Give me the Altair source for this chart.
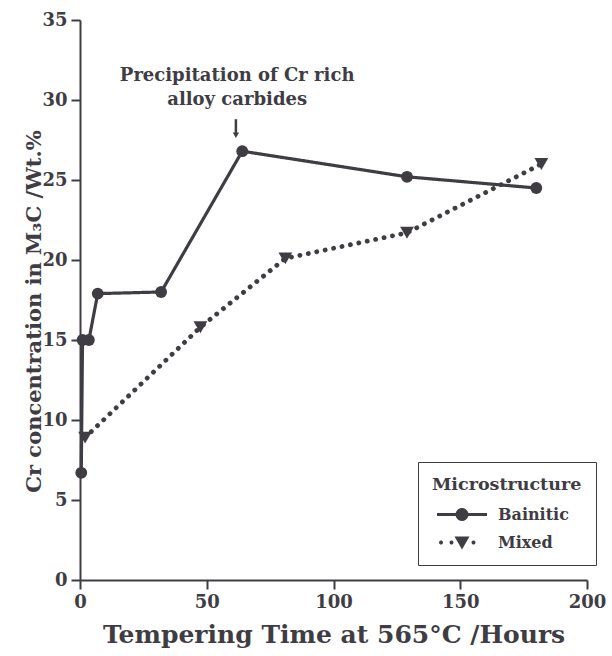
import math
import altair as alt
import pandas as pd

# ---- data ----
bain_x = [0.5, 1, 3.5, 7, 32, 64, 129, 180]
bain_y = [6.7, 15.0, 15.0, 17.9, 18.0, 26.8, 25.2, 24.5]
mixed_x = [2, 47.5, 81, 129, 182]
mixed_y = [8.9, 15.8, 20.1, 21.7, 26.0]
series_names = ["Bainitic", "Mixed"]

x_ticks = [0, 50, 100, 150, 200]
y_ticks = [0, 5, 10, 15, 20, 25, 30, 35]

note_text = ["Precipitation of Cr rich", "alloy carbides"]
note_x = [62]
note_y = [31.5]
arrow_x = [61.5]
arrow_y_top = [28.8]
arrow_y_tip = [27.8]

INK = "#403c44"
FONT = "DejaVu Serif"

df = pd.DataFrame({
    "t": bain_x + mixed_x,
    "cr": bain_y + mixed_y,
    "series": [series_names[0]] * len(bain_x) + [series_names[1]] * len(mixed_x),
    "order": list(range(len(bain_x))) + list(range(len(mixed_x))),
})


def circle_poly(cx, cy, r, n=20):
    pts = []
    for i in range(n):
        a = 2 * math.pi * i / n
        pts.append(f"{cx + r * math.cos(a):.3f},{cy + r * math.sin(a):.3f}")
    return "M" + " L".join(pts) + " Z"


# legend glyphs (unit = sqrt(size)/2 px)
bain_path = ("M-2.5,-0.15 L-0.6,-0.15 L-0.6,0.15 L-2.5,0.15 Z "
             "M0.6,-0.15 L2.5,-0.15 L2.5,0.15 L0.6,0.15 Z " + circle_poly(0, 0, 0.65))
mixed_path = (circle_poly(-2.1, 0.0, 0.2, 10) + " " + circle_poly(-1.05, 0.0, 0.2, 10) + " "
              + circle_poly(1.15, 0.0, 0.2, 10) + " M-0.75,-0.6 L0.75,-0.6 L0,0.7 Z")

x_enc = alt.X("t:Q", scale=alt.Scale(domain=[0, 200], nice=False),
              axis=alt.Axis(values=x_ticks, title="Tempering Time at 565°C /Hours",
                            titleFontSize=25, titleY=42, labelFontSize=18, labelFlush=False))
y_enc = alt.Y("cr:Q", scale=alt.Scale(domain=[0, 35], nice=False),
              axis=alt.Axis(values=y_ticks, title="Cr concentration in M₃C /Wt.%",
                            titleFontSize=21, titleX=-36, titleY=291, labelFontSize=18,
                            labelFlush=False))

base = alt.Chart(df).encode(x=x_enc, y=y_enc)

lines = base.mark_line(color=INK, strokeCap="round").encode(
    order="order:Q",
    strokeDash=alt.StrokeDash("series:N", scale=alt.Scale(domain=series_names, range=[[1, 0], [0.1, 8.5]]),
                              legend=None),
    size=alt.Size("series:N", scale=alt.Scale(domain=series_names, range=[3.2, 4.8]), legend=None),
)

points = base.mark_point(filled=True, color=INK, opacity=1).encode(
    shape=alt.Shape("series:N", scale=alt.Scale(domain=series_names, range=["circle", "triangle-down"]),
                    legend=None),
    size=alt.Size("series:N", scale=alt.Scale(domain=series_names, range=[140, 190]), legend=None),
)

legend_layer = base.mark_point(filled=True, color=INK, opacity=1).encode(
    shape=alt.Shape("series:N",
                    scale=alt.Scale(domain=series_names, range=[bain_path, mixed_path]),
                    legend=alt.Legend(title="Microstructure", orient="none", legendX=338, legendY=442,
                                      strokeColor=INK, fillColor="white", padding=14,
                                      titleFont=FONT, titleFontSize=17.5, titleFontWeight="bold",
                                      titleColor=INK, titlePadding=11,
                                      labelFont=FONT, labelFontSize=16, labelFontWeight="bold",
                                      labelColor=INK, symbolSize=400, symbolOffset=20,
                                      labelOffset=26, rowPadding=10,
                                      symbolFillColor=INK, symbolStrokeWidth=0,
                                      symbolOpacity=1)),
).transform_filter("datum.t < -1000")

note_df = pd.DataFrame({"t": note_x, "cr": note_y, "txt": [note_text]})
note = alt.Chart(note_df).mark_text(font=FONT, fontSize=18, fontWeight="bold", color=INK,
                                    align="center", baseline="middle", lineHeight=24).encode(
    x="t:Q", y="cr:Q", text="txt")

arrow_df = pd.DataFrame({"t": arrow_x, "cr": arrow_y_top, "cr2": arrow_y_tip})
arrow_stem = alt.Chart(arrow_df).mark_rule(color=INK, strokeWidth=2.5).encode(
    x="t:Q", y="cr:Q", y2="cr2:Q")
arrow_head = alt.Chart(arrow_df).mark_point(shape="triangle-down", filled=True, color=INK,
                                            opacity=1, size=40).encode(x="t:Q", y="cr2:Q")

chart = alt.layer(lines, points, legend_layer, note, arrow_stem, arrow_head).resolve_scale(
    shape="independent", size="independent"
).properties(
    width=507, height=560,
    padding={"left": 80, "top": 20, "right": 25, "bottom": 76},
    autosize=alt.AutoSizeParams(type="none"),
).configure_view(stroke=None).configure_axis(
    grid=False, domainColor=INK, domainWidth=2, tickColor=INK, tickWidth=2, tickSize=9,
    labelFont=FONT, labelFontWeight="bold", labelColor=INK, labelPadding=4,
    titleFont=FONT, titleFontWeight="bold", titleColor=INK,
)

chart.save("out.html", embed_options={"renderer": "svg", "actions": False})
